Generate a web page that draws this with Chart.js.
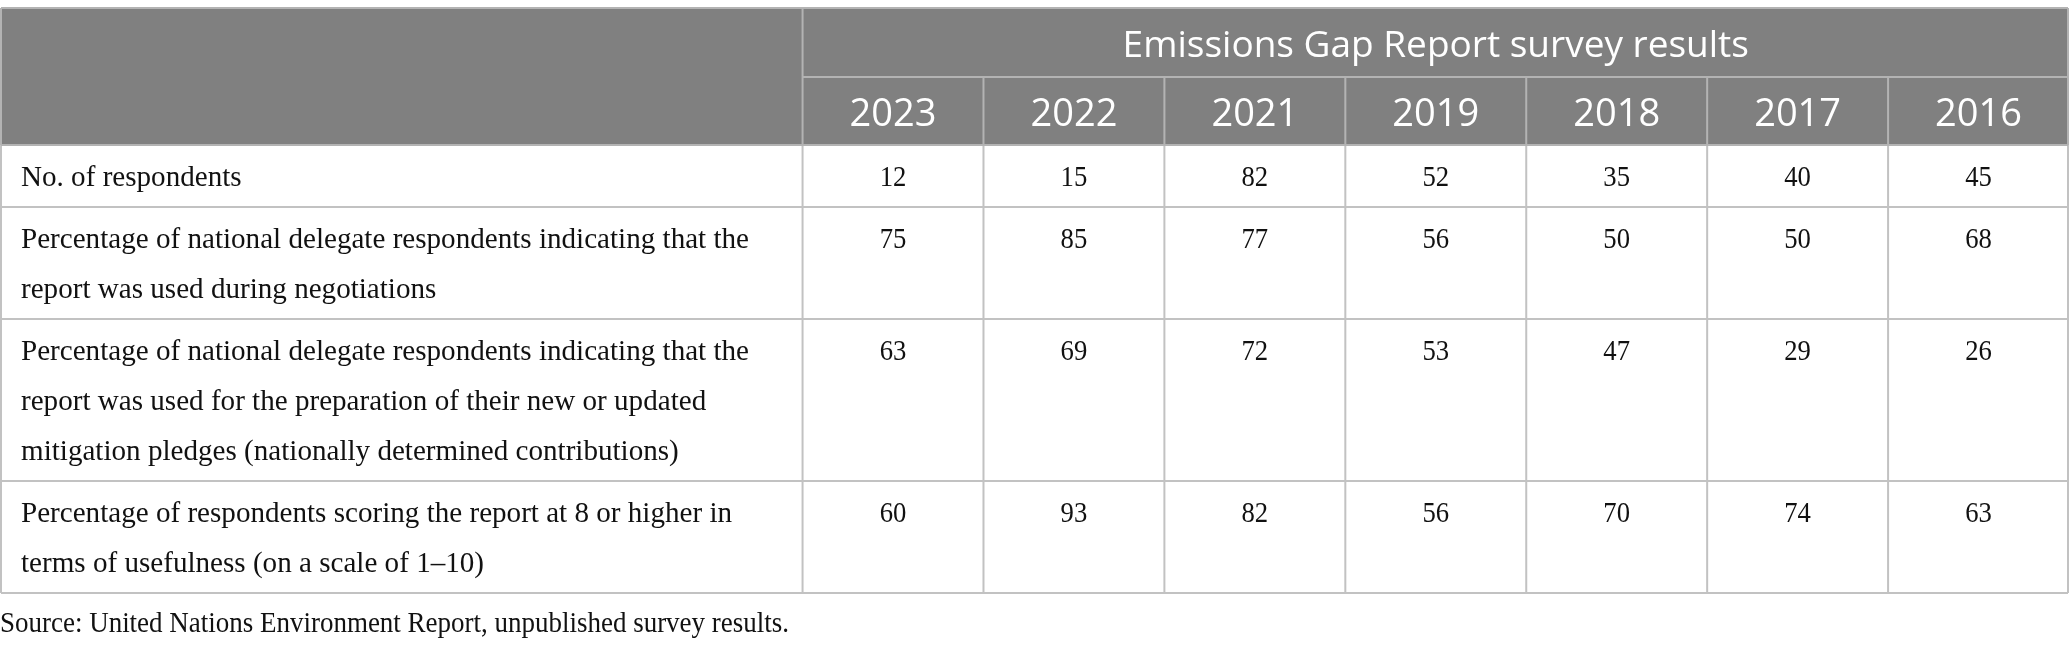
<!DOCTYPE html>
<html>
<head>
<meta charset="utf-8">
<title>Emissions Gap Report survey results</title>
<script src="https://cdn.jsdelivr.net/npm/chart.js@4.4.1/dist/chart.umd.min.js"></script>
<style>
    html, body { margin: 0; padding: 0; background: #fff; }
    #wrap { position: relative; width: 2069px; height: 647px; }
</style>
</head>
<body>
<div id="wrap"><canvas id="chart"></canvas></div>
<script>
// table content
const title = 'Emissions Gap Report survey results';
const years = ['2023', '2022', '2021', '2019', '2018', '2017', '2016'];
const rowLabels = [
    ['No. of respondents'],
    ['Percentage of national delegate respondents indicating that the',
        'report was used during negotiations'],
    ['Percentage of national delegate respondents indicating that the',
        'report was used for the preparation of their new or updated',
        'mitigation pledges (nationally determined contributions)'],
    ['Percentage of respondents scoring the report at 8 or higher in',
        'terms of usefulness (on a scale of 1\u201310)'],
];
const respondents = [12, 15, 82, 52, 35, 40, 45];
const usedInNegotiations = [75, 85, 77, 56, 50, 50, 68];
const usedForPledges = [63, 69, 72, 53, 47, 29, 26];
const scoredHigh = [60, 93, 82, 56, 70, 74, 63];
const sourceNote = 'Source: United Nations Environment Report, unpublished survey results.';

const seriesRows = [respondents, usedInNegotiations, usedForPledges, scoredHigh];

// layout (y axis is in page pixels, x axis in year-column units)
const PAGE_H = 647;
const TABLE_TOP = 8;
const HEAD_ROWS = [69, 68];
const LINE_H = 50;
const ROW_PAD = 12;
const FIRST_LINE = 33;
const LABEL_COL = 4.436;
const BODY_FONT = '30px "Liberation Serif", "DejaVu Serif", serif';
const VALUE_FONT = '29px "Liberation Serif", "DejaVu Serif", serif';
const SOURCE_FONT = '29px "Liberation Serif", "DejaVu Serif", serif';
const TITLE_FONT = '37px "Open Sans", "Noto Sans", sans-serif';
const YEAR_FONT = '38px "Open Sans", "Noto Sans", sans-serif';
const HEAD_BG = '#808080';
const HEAD_LINE = '#b3b3b3';
const BODY_LINE = '#c2c2c2';
const TEXT = '#111111';

const headBottom = TABLE_TOP + HEAD_ROWS[0] + HEAD_ROWS[1];
const rowTops = [];
let acc = headBottom;
rowLabels.forEach((lines) => {
    rowTops.push(acc);
    acc += lines.length * LINE_H + ROW_PAD;
});
const tableBottom = acc;

const datasets = years.map((yr, i) => ({
    label: yr,
    data: seriesRows.map((arr, r) => ({ x: i + 0.5, y: rowTops[r] + FIRST_LINE, v: arr[i] })),
    pointRadius: 0,
    showLine: false,
}));

function condensedText(ctx, text, x, y, sx) {
    ctx.save();
    ctx.translate(x, y);
    ctx.scale(sx, 1);
    ctx.fillText(text, 0, 0);
    ctx.restore();
}

const tablePlugin = {
    id: 'surveyTable',
    afterDraw(chart) {
        const ctx = chart.ctx;
        const xs = chart.scales.x;
        const ys = chart.scales.y;
        const X = (v) => xs.getPixelForValue(v);
        const Y = (v) => ys.getPixelForValue(v);
        const left = X(-LABEL_COL) + 1;
        const right = X(years.length) - 1;
        const top = Y(TABLE_TOP);
        const midHead = Y(TABLE_TOP + HEAD_ROWS[0]);
        const headB = Y(headBottom);
        const bottom = Y(tableBottom);

        ctx.save();
        // header block
        ctx.fillStyle = HEAD_BG;
        ctx.fillRect(left, top, right - left, headB - top);

        ctx.lineWidth = 2;
        // body grid
        ctx.strokeStyle = BODY_LINE;
        ctx.beginPath();
        rowTops.forEach((t, r) => {
            const yb = r + 1 < rowTops.length ? rowTops[r + 1] : tableBottom;
            ctx.moveTo(left, Y(yb));
            ctx.lineTo(right, Y(yb));
        });
        for (let i = 0; i < years.length; i++) {
            ctx.moveTo(X(i), headB);
            ctx.lineTo(X(i), bottom);
        }
        ctx.moveTo(left, headB);
        ctx.lineTo(left, bottom);
        ctx.moveTo(right, headB);
        ctx.lineTo(right, bottom);
        ctx.stroke();

        // header grid
        ctx.strokeStyle = HEAD_LINE;
        ctx.beginPath();
        ctx.moveTo(left, top);
        ctx.lineTo(right, top);
        ctx.moveTo(left, top);
        ctx.lineTo(left, headB);
        ctx.moveTo(right, top);
        ctx.lineTo(right, headB);
        ctx.moveTo(left, headB);
        ctx.lineTo(right, headB);
        ctx.moveTo(X(0), midHead);
        ctx.lineTo(right, midHead);
        ctx.moveTo(X(0), top);
        ctx.lineTo(X(0), headB);
        for (let i = 1; i < years.length; i++) {
            ctx.moveTo(X(i), midHead);
            ctx.lineTo(X(i), headB);
        }
        ctx.stroke();

        // header text
        ctx.fillStyle = '#ffffff';
        ctx.textAlign = 'center';
        ctx.textBaseline = 'middle';
        ctx.font = TITLE_FONT;
        ctx.fillText(title, X(years.length / 2), (top + midHead) / 2 + 4);
        ctx.font = YEAR_FONT;
        years.forEach((yr, i) => {
            ctx.fillText(yr, X(i + 0.5), (midHead + headB) / 2 + 4);
        });

        // row labels, fitted to the width of the original serif
        ctx.fillStyle = TEXT;
        ctx.font = BODY_FONT;
        ctx.textAlign = 'left';
        const sx = 728 / ctx.measureText(rowLabels[1][0]).width;
        rowLabels.forEach((lines, r) => {
            lines.forEach((line, k) => {
                condensedText(ctx, line, left + 20, Y(rowTops[r] + FIRST_LINE + k * LINE_H), sx);
            });
        });

        // cell values at their data points
        ctx.font = VALUE_FONT;
        ctx.textAlign = 'center';
        chart.data.datasets.forEach((ds, i) => {
            const meta = chart.getDatasetMeta(i);
            meta.data.forEach((pt, r) => {
                condensedText(ctx, String(ds.data[r].v), pt.x, pt.y, 0.92);
            });
        });

        // source note
        ctx.font = SOURCE_FONT;
        ctx.textAlign = 'left';
        const sx2 = 789 / ctx.measureText(sourceNote).width;
        condensedText(ctx, sourceNote, X(-LABEL_COL), Y(tableBottom + 31), sx2);
        ctx.restore();
    },
};

new Chart(document.getElementById('chart'), {
    type: 'scatter',
    data: { datasets: datasets },
    options: {
        responsive: true,
        maintainAspectRatio: false,
        animation: false,
        layout: { padding: 0 },
        plugins: {
            legend: { display: false },
            tooltip: { enabled: false },
        },
        scales: {
            x: { type: 'linear', min: -LABEL_COL, max: years.length, display: false },
            y: { type: 'linear', min: 0, max: PAGE_H, reverse: true, display: false },
        },
    },
    plugins: [tablePlugin],
});
</script>
</body>
</html>
